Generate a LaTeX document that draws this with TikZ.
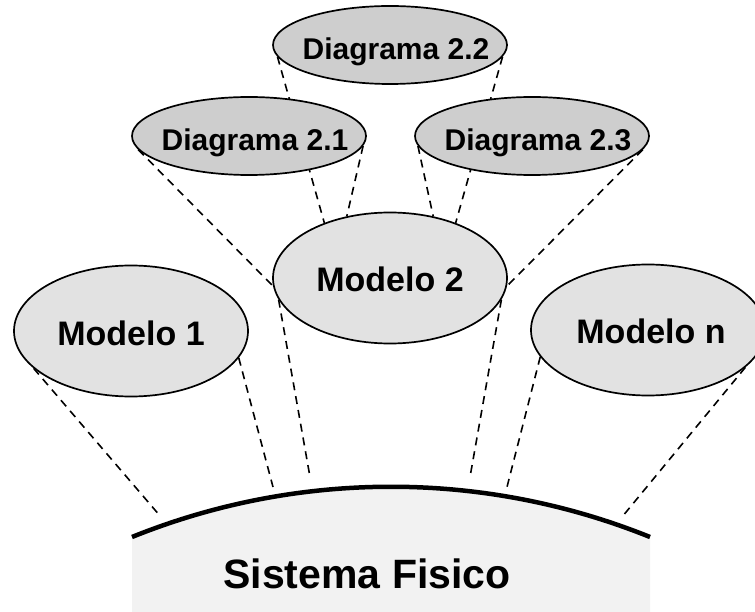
\documentclass[tikz,border=0pt]{standalone}
\usepackage{fontspec}
\setmainfont{Liberation Sans}
\usetikzlibrary{shapes.geometric}
\pgfdeclarelayer{bg}
\pgfsetlayers{bg,main}
\definecolor{dgray}{RGB}{206,206,206}
\definecolor{mgray}{RGB}{226,226,226}
\definecolor{sgray}{RGB}{242,242,242}
\begin{document}
\begin{tikzpicture}[x=1pt,y=-1pt,
  ell/.style={ellipse, draw, line width=1.7pt, inner sep=0pt},
  diag/.style={ell, fill=dgray, minimum width=234pt, minimum height=78pt,
    font=\bfseries\fontsize{30}{30}\selectfont, text height=30pt, text depth=0pt},
  mod/.style={ell, fill=mgray, minimum width=234pt, minimum height=131pt,
    font=\bfseries\fontsize{34}{34}\selectfont, text height=28pt, text depth=0pt},
  dsh/.style={line width=1.6pt, dash pattern=on 8pt off 6pt},
  base/.style={font=\bfseries\fontsize{41}{41}\selectfont, inner sep=0pt, text height=29.4pt, text depth=0pt}
]
\useasboundingbox (0,0) rectangle (755,612);

% ellipses
\node[diag] (d22) at (390,45) {\makebox[0pt]{\hspace{12pt}Diagrama 2.2}};
\node[diag] (d21) at (249,136) {\makebox[0pt]{\hspace{12pt}Diagrama 2.1}};
\node[diag] (d23) at (532,136) {\makebox[0pt]{\hspace{12pt}Diagrama 2.3}};
\node[mod] (m2) at (390,278) {\makebox[0pt]{Modelo 2}};
\node[mod] (m1) at (131,331) {\makebox[0pt]{Modelo 1}};
\node[mod] (mn) at (648,330) {\makebox[0pt]{\hspace{6pt}Modelo n}};

% physical system
\node[base] (sf) at (367,574) {Sistema Fisico};
\draw[line width=4.5pt] (132,537) .. controls (298,470) and (484,470) .. (650,537);

% free ends of connectors (just above the arc)
\coordinate (a1) at (161,517);
\coordinate (a2) at (273,487);
\coordinate (a3) at (310,477);
\coordinate (a4) at (470,477);
\coordinate (a5) at (507,487);
\coordinate (a6) at (622,517);

\begin{pgfonlayer}{bg}
  \fill[sgray] (132,537) .. controls (298,470) and (484,470) .. (650,537)
     -- (650,612) -- (132,612) -- cycle;
  \draw[dsh] (m1.201) -- (a1);
  \draw[dsh] (m1.346) -- (a2);
  \draw[dsh] (m2.191) -- (a3);
  \draw[dsh] (m2.349) -- (a4);
  \draw[dsh] (mn.194) -- (a5);
  \draw[dsh] (mn.339) -- (a6);
  \draw[dsh] (d21.187) -- (m2.184);
  \draw[dsh] (d23.353) -- (m2.356);
  \draw[dsh] (d21.355) -- (m2.125);
  \draw[dsh] (d23.185) -- (m2.55);
  \draw[dsh] (d22.186) -- (m2.140);
  \draw[dsh] (d22.354) -- (m2.40);
\end{pgfonlayer}
\end{tikzpicture}
\end{document}
